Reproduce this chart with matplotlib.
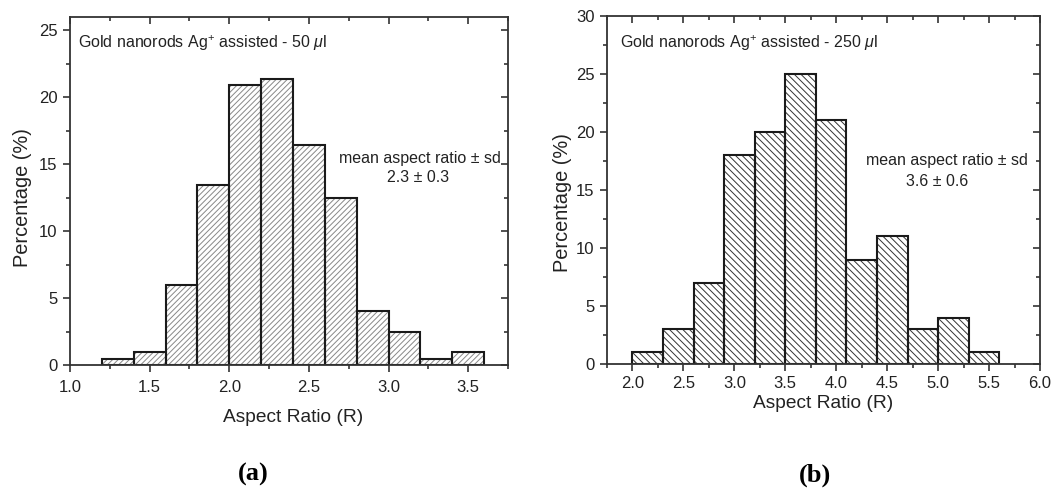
import matplotlib
matplotlib.use("Agg")
import matplotlib.pyplot as plt
from matplotlib.ticker import MultipleLocator
import numpy as np

# Panel (a) data
a_edges = [1.2, 1.4, 1.6, 1.8, 2.0, 2.2, 2.4, 2.6, 2.8, 3.0, 3.2, 3.4, 3.6]
a_values = [0.45, 1.0, 6.0, 13.45, 20.9, 21.4, 16.4, 12.45, 4.0, 2.45, 0.45, 1.0]
a_title = r"Gold nanorods Ag$^{+}$ assisted - 50 $\mu$l"
a_stat = "2.3 ± 0.3"

# Panel (b) data
b_edges = [2.0, 2.3, 2.6, 2.9, 3.2, 3.5, 3.8, 4.1, 4.4, 4.7, 5.0, 5.3, 5.6]
b_values = [1, 3, 7, 18, 20, 25, 21, 9, 11, 3, 4, 1]
b_title = r"Gold nanorods Ag$^{+}$ assisted - 250 $\mu$l"
b_stat = "3.6 ± 0.6"

stat_head = "mean aspect ratio ± sd"
xlabel = "Aspect Ratio (R)"
ylabel = "Percentage (%)"

plt.rcParams['font.family'] = ['Liberation Sans', 'DejaVu Sans']
plt.rcParams['mathtext.fontset'] = 'custom'
plt.rcParams['mathtext.rm'] = 'Liberation Sans'
plt.rcParams['mathtext.it'] = 'Liberation Sans:italic'
plt.rcParams['hatch.linewidth'] = 0.7

fig = plt.figure(figsize=(10.63, 4.88), dpi=100)
W, H = 1063, 488
ax1 = fig.add_axes([70 / W, 1 - 365 / H, (508 - 70) / W, (365 - 17) / H])
ax2 = fig.add_axes([607 / W, 1 - 364 / H, (1040 - 607) / W, (364 - 16) / H])

spine_col = '#333333'
txt_col = '#222222'

def draw(ax, edges, vals, hatch, hcol, xlim, ylim, xmaj, ymaj, pad):
    edges = np.array(edges)
    widths = np.diff(edges)
    ax.bar(edges[:-1], vals, width=widths, align='edge', color='white',
           edgecolor=hcol, hatch=hatch, linewidth=0)
    ax.bar(edges[:-1], vals, width=widths, align='edge', fill=False,
           edgecolor='#1a1a1a', linewidth=1.5)
    ax.set_xlim(*xlim)
    ax.set_ylim(*ylim)
    ax.xaxis.set_major_locator(MultipleLocator(xmaj))
    ax.xaxis.set_minor_locator(MultipleLocator(xmaj / 2))
    ax.yaxis.set_major_locator(MultipleLocator(ymaj))
    ax.yaxis.set_minor_locator(MultipleLocator(ymaj / 2))
    ax.tick_params(which='both', direction='out', top=False, right=False,
                   color=spine_col, width=1.2, labelsize=12, labelcolor=txt_col)
    ax.tick_params(which='major', length=5)
    ax.tick_params(which='minor', length=3)
    ax.tick_params(axis='x', which='major', pad=pad)
    ax.tick_params(axis='y', which='major', pad=4)
    sec_x = ax.secondary_xaxis('top')
    sec_x.xaxis.set_major_locator(MultipleLocator(xmaj))
    sec_x.xaxis.set_minor_locator(MultipleLocator(xmaj / 2))
    sec_x.tick_params(which='both', direction='in', labeltop=False, color=spine_col, width=1.2)
    sec_x.tick_params(which='major', length=5)
    sec_x.tick_params(which='minor', length=3)
    sec_x.spines['top'].set_visible(False)
    sec_y = ax.secondary_yaxis('right')
    sec_y.yaxis.set_major_locator(MultipleLocator(ymaj))
    sec_y.yaxis.set_minor_locator(MultipleLocator(ymaj / 2))
    sec_y.tick_params(which='both', direction='in', labelright=False, color=spine_col, width=1.2)
    sec_y.tick_params(which='major', length=5)
    sec_y.tick_params(which='minor', length=3)
    sec_y.spines['right'].set_visible(False)
    for s in ax.spines.values():
        s.set_color(spine_col)
        s.set_linewidth(1.3)

draw(ax1, a_edges, a_values, '//////', '#888888', (1.0, 3.75), (0, 26), 0.5, 5, 6)
draw(ax2, b_edges, b_values, '\\\\\\\\\\', '#333333', (1.75, 6.0), (0, 30), 0.5, 5, 4)

def ftext(x, y, s, **kw):
    fig.text(x / W, 1 - y / H, s, ha='center', va='center', color=txt_col, **kw)

# axis labels
ftext(293, 417, xlabel, fontsize=13.8)
ftext(823, 404, xlabel, fontsize=13.8)
ftext(23, 198, ylabel, fontsize=14.4, rotation=90)
ftext(562, 203, ylabel, fontsize=14.4, rotation=90)

# titles inside panels
fig.text(78 / W, 1 - 43 / H, a_title, fontsize=11.5, va='center', color=txt_col)
fig.text(620 / W, 1 - 43 / H, b_title, fontsize=11.5, va='center', color=txt_col)

# stats
ftext(420, 158, stat_head, fontsize=11.5)
ftext(418, 178, a_stat, fontsize=11.5)
ftext(947, 161, stat_head, fontsize=11.5)
ftext(937, 181, b_stat, fontsize=11.5)

# panel letters
fig.text(253 / W, 1 - 474 / H, "(a)", fontsize=19, fontweight='bold',
         family='Liberation Serif', ha='center', va='center')
fig.text(815 / W, 1 - 475 / H, "(b)", fontsize=19, fontweight='bold',
         family='Liberation Serif', ha='center', va='center')

fig.savefig("out.png", dpi=100, facecolor='white')
